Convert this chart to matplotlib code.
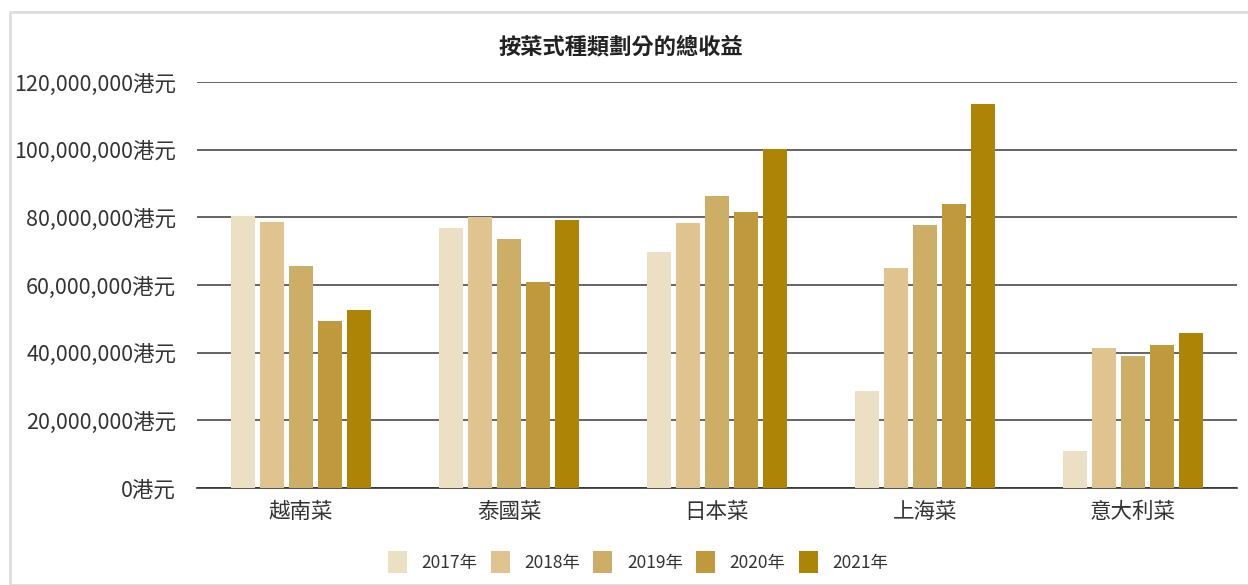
import matplotlib
matplotlib.use('Agg')
import matplotlib.pyplot as plt
import numpy as np
from matplotlib.patches import Rectangle
from matplotlib.ticker import FuncFormatter

plt.rcParams['font.family'] = ['Noto Sans CJK TC', 'DejaVu Sans']

categories = ['越南菜', '泰國菜', '日本菜', '上海菜', '意大利菜']
years = ['2017年', '2018年', '2019年', '2020年', '2021年']
rev_2017 = [80.4e6, 76.8e6, 69.7e6, 28.7e6, 10.9e6]
rev_2018 = [78.6e6, 80.1e6, 78.3e6, 65.0e6, 41.4e6]
rev_2019 = [65.6e6, 73.6e6, 86.3e6, 77.7e6, 39.0e6]
rev_2020 = [49.3e6, 60.9e6, 81.5e6, 83.9e6, 42.2e6]
rev_2021 = [52.6e6, 79.2e6, 100.1e6, 113.4e6, 45.8e6]
colors = ['#EBE0C3', '#DFC490', '#CDAE66', '#BF993B', '#AD8405']

series = [rev_2017, rev_2018, rev_2019, rev_2020, rev_2021]

fig = plt.figure(figsize=(12.48, 5.85), dpi=100)
# light frame around the chart
fig.patches.append(Rectangle((10 / 1248, 0), 1.2, (585 - 12) / 585,
                             transform=fig.transFigure, fill=False,
                             edgecolor='#dddddd', linewidth=2))
ax = fig.add_axes([197 / 1248, (585 - 488) / 585, 1040 / 1248, (488 - 82) / 585])

x = np.arange(len(categories))
w = 0.115
step = 0.14
for i, vals in enumerate(series):
    ax.bar(x + (i - 2) * step, vals, w, color=colors[i], label=years[i], zorder=3)

ax.set_xlim(-0.5, len(categories) - 0.5)
ax.set_ylim(0, 120e6)
ax.set_yticks(np.arange(0, 120e6 + 1, 20e6))
ax.yaxis.set_major_formatter(FuncFormatter(lambda v, p: '{:,.0f}港元'.format(v)))
ax.grid(axis='y', color='#4a4a4a', linewidth=1.2, zorder=0)
for s in ['top', 'right', 'left']:
    ax.spines[s].set_visible(False)
ax.spines['bottom'].set_color('#333333')
ax.spines['bottom'].set_linewidth(1.2)
ax.tick_params(axis='both', length=0, labelsize=15.5, colors='#333333')
ax.tick_params(axis='y', pad=15)
ax.tick_params(axis='x', pad=9)
ax.set_xticks(x)
ax.set_xticklabels(categories)

fig.text(621 / 1248, 1 - 47 / 585, '按菜式種類劃分的總收益', ha='center', va='center',
         fontsize=16, fontweight='bold', color='#222222')

fig.legend(loc='center', bbox_to_anchor=(638 / 1248, 1 - 562 / 585), ncol=5,
           frameon=False, fontsize=12.5, handlelength=1.1, handleheight=1.5,
           columnspacing=0.75, handletextpad=0.85, labelcolor='#333333',
           borderpad=0, borderaxespad=0)

fig.savefig('out.png', dpi=100)
